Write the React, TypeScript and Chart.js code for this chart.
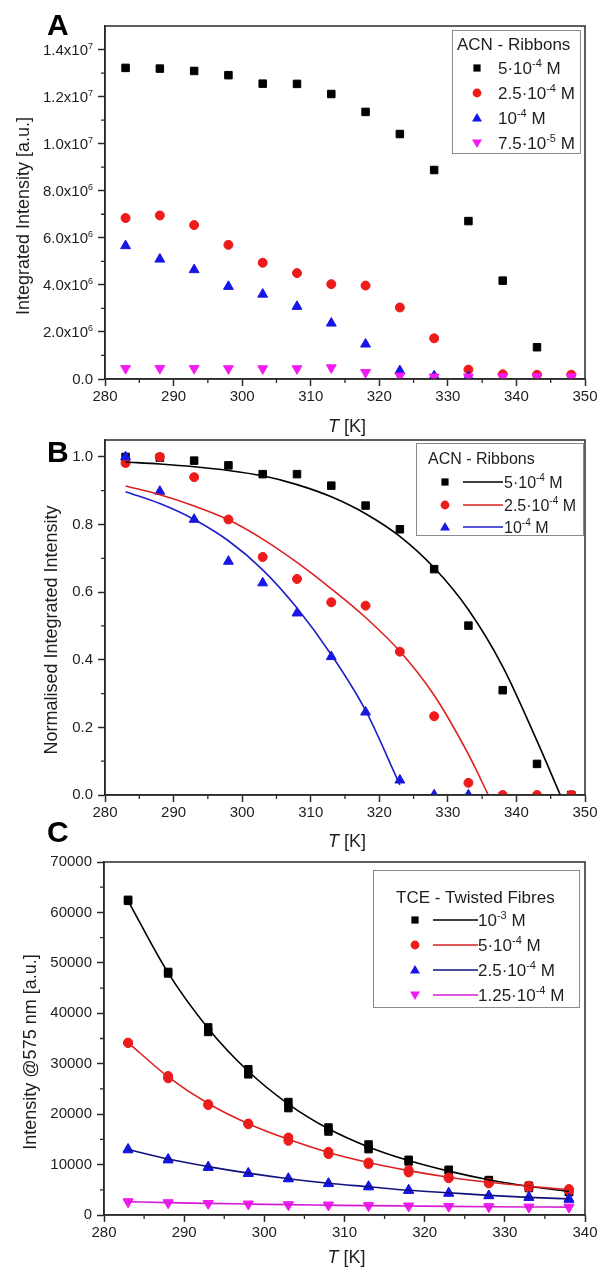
import React, { useEffect, useRef } from 'react';
import { Chart, registerables } from 'chart.js';

Chart.register(...registerables);

const FONT = '"Liberation Sans", Arial, Helvetica, sans-serif';
const INK = '#1e1e1e';
const FRAME = '#2a2a2a';
const TICK_SIZE = 15;

const BLACK = '#000000';
const RED = '#ee1b1b';
const BLUE = '#1616e6';
const MAGENTA = '#f21cf2';
const RED_LINE = '#dd2020';
const BLUE_LINE_B = '#1e1ec8';
const BLUE_LINE_C = '#12127e';
const MAGENTA_LINE = '#d61cd6';

// ---------- Panel A: integrated intensity, ACN ribbons ----------
const tempsAB = [283, 288, 293, 298, 303, 308, 313, 318, 323, 328, 333, 338, 343, 348];
const intA_5e4 = [13.22e6, 13.19e6, 13.09e6, 12.91e6, 12.55e6, 12.54e6, 12.11e6, 11.35e6, 10.41e6, 8.88e6, 6.71e6, 4.18e6, 1.35e6];
const intA_25e4 = [6.84e6, 6.95e6, 6.54e6, 5.7e6, 4.94e6, 4.5e6, 4.03e6, 3.97e6, 3.04e6, 1.73e6, 0.4e6, 0.2e6, 0.18e6, 0.18e6];
const intA_1e4 = [5.66e6, 5.09e6, 4.64e6, 3.93e6, 3.6e6, 3.08e6, 2.37e6, 1.48e6, 0.35e6, 0.13e6, 0.1e6];
const intA_75e5 = [0.45e6, 0.45e6, 0.45e6, 0.44e6, 0.44e6, 0.44e6, 0.48e6, 0.28e6, 0.13e6, 0.09e6, 0.09e6, 0.1e6, 0.1e6, 0.1e6];

const yTicksA = [0, 2e6, 4e6, 6e6, 8e6, 10e6, 12e6, 14e6];
const yTickLabelsA = ['0.0', '2.0x10⁶', '4.0x10⁶', '6.0x10⁶', '8.0x10⁶', '1.0x10⁷', '1.2x10⁷', '1.4x10⁷'];
const yMinorA = [1e6, 3e6, 5e6, 7e6, 9e6, 11e6, 13e6];

// ---------- Panel B: normalised integrated intensity ----------
const normB_5e4 = [1.0, 0.998, 0.989, 0.975, 0.949, 0.949, 0.915, 0.856, 0.786, 0.668, 0.501, 0.31, 0.092, 0.0];
const normB_25e4 = [0.982, 1.0, 0.94, 0.815, 0.704, 0.639, 0.57, 0.56, 0.424, 0.233, 0.036, 0.0, 0.0, 0.0];
const normB_1e4 = [1.0, 0.898, 0.815, 0.691, 0.627, 0.538, 0.409, 0.245, 0.044, 0.0, 0.0];

const fitT_5e4 = [283, 288, 293, 298, 303, 308, 313, 318, 323, 328, 333, 338, 343, 346.4];
const fitB_5e4 = [0.985, 0.979, 0.971, 0.96, 0.944, 0.918, 0.882, 0.832, 0.765, 0.672, 0.548, 0.38, 0.16, 0.0];
const fitT_25e4 = [283, 288, 293, 298, 303, 308, 313, 318, 323, 328, 333, 335.9];
const fitB_25e4 = [0.914, 0.888, 0.855, 0.814, 0.757, 0.688, 0.61, 0.525, 0.425, 0.295, 0.12, 0.0];
const fitT_1e4 = [283, 288, 293, 298, 303, 308, 313, 318, 323];
const fitB_1e4 = [0.897, 0.862, 0.815, 0.752, 0.666, 0.553, 0.415, 0.25, 0.03];

const yTicksB = [0, 0.2, 0.4, 0.6, 0.8, 1.0];
const yMinorB = [0.1, 0.3, 0.5, 0.7, 0.9];
const xTicksAB = [280, 290, 300, 310, 320, 330, 340, 350];
const xMinorAB = [285, 295, 305, 315, 325, 335, 345];

// ---------- Panel C: intensity at 575 nm, TCE twisted fibres (two runs) ----------
const tempsC = [283, 288, 293, 298, 303, 308, 313, 318, 323, 328, 333, 338];
const intC_1e3_a = [62500, 48200, 37200, 28900, 22400, 17350, 13980, 10950, 8970, 6930, 5800, 4620];
const intC_1e3_b = [62300, 47900, 36300, 27900, 21200, 16560, 13060, 10600, 8800, 6800, 5340, 4550];
const intC_5e4_a = [34170, 27570, 21970, 18140, 15370, 12530, 10420, 8900, 7450, 6270, 5800, 5150];
const intC_5e4_b = [34100, 27100, 21800, 18000, 14710, 12070, 10090, 8440, 7300, 6400, 5470, 4810];
const intC_25e4_a = [13060, 11080, 9560, 8310, 7260, 6270, 5670, 4950, 4350, 3830, 3560, 3170];
const intC_25e4_b = [12900, 10900, 9400, 8200, 7150, 6200, 5550, 4850, 4300, 3800, 3450, 3100];
const intC_125e4_a = [2640, 2440, 2310, 2180, 2040, 1980, 1850, 1780, 1720, 1650, 1580, 1580];
const intC_125e4_b = [2600, 2400, 2280, 2150, 2020, 1950, 1830, 1760, 1700, 1630, 1560, 1540];

const fitC_1e3 = [62300, 48000, 37000, 28500, 22000, 17100, 13500, 10800, 8700, 7000, 5700, 4700];
const fitC_5e4 = [34200, 27400, 22100, 18100, 15000, 12400, 10400, 8800, 7500, 6500, 5700, 5000];
const fitC_25e4 = [13000, 11100, 9600, 8300, 7200, 6300, 5600, 4900, 4400, 3900, 3500, 3200];
const fitC_125e4 = [2650, 2450, 2300, 2170, 2050, 1950, 1850, 1780, 1710, 1650, 1600, 1560];

const yTicksC = [0, 10000, 20000, 30000, 40000, 50000, 60000, 70000];
const yMinorC = [5000, 15000, 25000, 35000, 45000, 55000, 65000];
const xTicksC = [280, 290, 300, 310, 320, 330, 340];
const xMinorC = [285, 295, 305, 315, 325, 335];

// ---------- legends ----------
const legendA = ['5·10⁻⁴ M', '2.5·10⁻⁴ M', '10⁻⁴ M', '7.5·10⁻⁵ M'];
const legendB = ['5·10⁻⁴ M', '2.5·10⁻⁴ M', '10⁻⁴ M'];
const legendC = ['10⁻³ M', '5·10⁻⁴ M', '2.5·10⁻⁴ M', '1.25·10⁻⁴ M'];

type Shape = 'square' | 'circle' | 'up' | 'down';

interface LegendSpec {
  box: [number, number, number, number];
  title: string;
  titleX: number;
  titleY: number;
  size: number;
  markerX: number;
  lineX?: [number, number];
  textX: number;
  rows: number[];
  labels: string[];
  shapes: Shape[];
  colors: string[];
  lineColors?: string[];
}

interface PanelSpec {
  key: string;
  letter: string;
  letterY: number;
  area: { left: number; right: number; top: number; bottom: number };
  xMin: number;
  xMax: number;
  yMin: number;
  yMax: number;
  xTicks: number[];
  xMinor: number[];
  yTicks: number[];
  yMinor: number[];
  yLabel: (v: number) => string;
  yRich: boolean;
  xTitleY: number;
  yTitle: string;
  yTitleX: number;
  yTitleY: number;
  legend: LegendSpec;
  datasets: any[];
}

const pts = (xs: number[], ys: number[]) => ys.map((y, i) => ({ x: xs[i], y }));

const POINT: Record<Shape, any> = {
  square: { pointStyle: 'rect', pointRadius: 5.3, pointRotation: 0 },
  circle: { pointStyle: 'circle', pointRadius: 4.5, pointRotation: 0 },
  up: { pointStyle: 'triangle', pointRadius: 5.7, pointRotation: 0 },
  down: { pointStyle: 'triangle', pointRadius: 5.7, pointRotation: 180 },
};

function markers(xs: number[], ys: number[], shape: Shape, color: string) {
  return {
    data: pts(xs, ys),
    showLine: false,
    backgroundColor: color,
    borderColor: color,
    pointBackgroundColor: color,
    pointBorderColor: color,
    pointBorderWidth: 1,
    borderWidth: 1,
    ...POINT[shape],
  };
}

function curve(xs: number[], ys: number[], color: string) {
  return {
    data: pts(xs, ys),
    showLine: true,
    borderColor: color,
    backgroundColor: color,
    borderWidth: 1.6,
    pointRadius: 0,
    cubicInterpolationMode: 'monotone',
    fill: false,
  };
}

// ---------- text helpers ----------
const SUP: Record<string, string> = {
  '⁻': '-', '⁰': '0', '¹': '1', '²': '2', '³': '3', '⁴': '4',
  '⁵': '5', '⁶': '6', '⁷': '7', '⁸': '8', '⁹': '9',
};

function drawRich(ctx: CanvasRenderingContext2D, text: string, x: number, yMid: number, size: number, align: 'left' | 'right' | 'center') {
  const runs: { t: string; sup: boolean }[] = [];
  for (const ch of text) {
    const sup = ch in SUP;
    const c = sup ? SUP[ch] : ch;
    const last = runs[runs.length - 1];
    if (last && last.sup === sup) last.t += c;
    else runs.push({ t: c, sup });
  }
  const supSize = Math.round(size * 0.62);
  const widths = runs.map((r) => {
    ctx.font = `${r.sup ? supSize : size}px ${FONT}`;
    return ctx.measureText(r.t).width;
  });
  const total = widths.reduce((a, b) => a + b, 0);
  let cx = align === 'left' ? x : align === 'right' ? x - total : x - total / 2;
  const base = yMid + size * 0.36;
  ctx.textAlign = 'left';
  ctx.textBaseline = 'alphabetic';
  runs.forEach((r, i) => {
    ctx.font = `${r.sup ? supSize : size}px ${FONT}`;
    ctx.fillText(r.t, cx, r.sup ? base - size * 0.42 : base);
    cx += widths[i];
  });
}

function drawShape(ctx: CanvasRenderingContext2D, shape: Shape, x: number, y: number, color: string) {
  ctx.fillStyle = color;
  ctx.beginPath();
  if (shape === 'square') {
    ctx.rect(x - 3.6, y - 3.6, 7.2, 7.2);
  } else if (shape === 'circle') {
    ctx.arc(x, y, 4.4, 0, Math.PI * 2);
  } else if (shape === 'up') {
    ctx.moveTo(x, y - 5);
    ctx.lineTo(x + 5, y + 3.6);
    ctx.lineTo(x - 5, y + 3.6);
    ctx.closePath();
  } else {
    ctx.moveTo(x, y + 5);
    ctx.lineTo(x + 5, y - 3.6);
    ctx.lineTo(x - 5, y - 3.6);
    ctx.closePath();
  }
  ctx.fill();
}

function decorations(spec: PanelSpec) {
  return {
    id: 'decor',
    afterDraw(chart: any) {
      const ctx: CanvasRenderingContext2D = chart.ctx;
      const { left, right, top, bottom } = chart.chartArea;
      const xs = chart.scales.x;
      const ys = chart.scales.y;
      ctx.save();

      // box frame
      ctx.strokeStyle = FRAME;
      ctx.lineWidth = 1.5;
      ctx.strokeRect(left, top, right - left, bottom - top);

      // minor ticks
      ctx.lineWidth = 1.3;
      ctx.beginPath();
      spec.xMinor.forEach((v) => {
        const px = xs.getPixelForValue(v);
        ctx.moveTo(px, bottom);
        ctx.lineTo(px, bottom + 4);
      });
      spec.yMinor.forEach((v) => {
        const py = ys.getPixelForValue(v);
        ctx.moveTo(left, py);
        ctx.lineTo(left - 4, py);
      });
      ctx.stroke();

      ctx.fillStyle = INK;
      // y tick labels with exponents
      if (spec.yRich) {
        spec.yTicks.forEach((v) => {
          drawRich(ctx, spec.yLabel(v), left - 12, ys.getPixelForValue(v), TICK_SIZE, 'right');
        });
      }

      // x axis title: italic T and plain [K]
      const cxT = (left + right) / 2 + 2;
      ctx.textBaseline = 'middle';
      ctx.font = `italic 18px ${FONT}`;
      const wT = ctx.measureText('T').width;
      ctx.font = `18px ${FONT}`;
      const wK = ctx.measureText(' [K]').width;
      const x0 = cxT - (wT + wK) / 2;
      ctx.textAlign = 'left';
      ctx.font = `italic 18px ${FONT}`;
      ctx.fillText('T', x0, spec.xTitleY);
      ctx.font = `18px ${FONT}`;
      ctx.fillText(' [K]', x0 + wT, spec.xTitleY);

      // y axis title
      ctx.save();
      ctx.translate(spec.yTitleX, spec.yTitleY);
      ctx.rotate(-Math.PI / 2);
      ctx.textAlign = 'center';
      ctx.textBaseline = 'middle';
      ctx.font = `18px ${FONT}`;
      ctx.fillText(spec.yTitle, 0, 0);
      ctx.restore();

      // panel letter
      ctx.fillStyle = '#000';
      ctx.font = `bold 30px ${FONT}`;
      ctx.textAlign = 'left';
      ctx.textBaseline = 'alphabetic';
      ctx.fillText(spec.letter, 47, spec.letterY);

      // legend
      const L = spec.legend;
      const [bx0, by0, bx1, by1] = L.box;
      ctx.fillStyle = '#ffffff';
      ctx.fillRect(bx0, by0, bx1 - bx0, by1 - by0);
      ctx.strokeStyle = '#8a8a8a';
      ctx.lineWidth = 1;
      ctx.strokeRect(bx0 + 0.5, by0 + 0.5, bx1 - bx0, by1 - by0);
      ctx.fillStyle = INK;
      drawRich(ctx, L.title, L.titleX, L.titleY, L.size, 'left');
      L.rows.forEach((ry, i) => {
        drawShape(ctx, L.shapes[i], L.markerX, ry, L.colors[i]);
        if (L.lineX && L.lineColors) {
          ctx.strokeStyle = L.lineColors[i];
          ctx.lineWidth = 1.6;
          ctx.beginPath();
          ctx.moveTo(L.lineX[0], ry);
          ctx.lineTo(L.lineX[1], ry);
          ctx.stroke();
        }
        ctx.fillStyle = INK;
        drawRich(ctx, L.labels[i], L.textX, ry, L.size, 'left');
      });

      ctx.restore();
    },
  };
}

const X_AXIS_H = 40;

function makeChart(canvas: HTMLCanvasElement, spec: PanelSpec) {
  const { area } = spec;
  const datasets = spec.datasets.map((d, i) => ({ ...d, order: -i }));
  return new Chart(canvas, {
    type: 'scatter',
    data: { datasets },
    options: {
      animation: false,
      responsive: false,
      events: [],
      layout: {
        padding: { left: 0, right: 600 - area.right, top: area.top, bottom: 1274 - area.bottom - X_AXIS_H },
      },
      plugins: { legend: { display: false }, tooltip: { enabled: false } },
      scales: {
        x: {
          type: 'linear',
          min: spec.xMin,
          max: spec.xMax,
          afterBuildTicks: (s: any) => {
            s.ticks = spec.xTicks.map((v) => ({ value: v }));
          },
          afterFit: (s: any) => {
            s.height = X_AXIS_H;
          },
          grid: { display: true, drawOnChartArea: false, drawTicks: true, tickLength: 7, tickWidth: 1.5, tickColor: FRAME, color: FRAME },
          border: { display: true, color: FRAME, width: 1.5 },
          ticks: {
            color: INK,
            font: { family: FONT, size: TICK_SIZE },
            padding: 2,
            maxRotation: 0,
            autoSkip: false,
            callback: (v: any) => String(v),
          },
        },
        y: {
          type: 'linear',
          min: spec.yMin,
          max: spec.yMax,
          afterBuildTicks: (s: any) => {
            s.ticks = spec.yTicks.map((v) => ({ value: v }));
          },
          afterFit: (s: any) => {
            s.width = area.left;
          },
          grid: { display: true, drawOnChartArea: false, drawTicks: true, tickLength: 7, tickWidth: 1.5, tickColor: FRAME, color: FRAME },
          border: { display: true, color: FRAME, width: 1.5 },
          ticks: {
            color: INK,
            font: { family: FONT, size: TICK_SIZE },
            padding: 5,
            autoSkip: false,
            callback: (v: any) => (spec.yRich ? '' : spec.yLabel(Number(v))),
          },
        },
      },
    },
    plugins: [decorations(spec)],
  } as any);
}

const PANELS: PanelSpec[] = [
  {
    key: 'A',
    letter: 'A',
    letterY: 35,
    area: { left: 105, right: 585, top: 26, bottom: 379 },
    xMin: 280,
    xMax: 350,
    yMin: 0,
    yMax: 1.5e7,
    xTicks: xTicksAB,
    xMinor: xMinorAB,
    yTicks: yTicksA,
    yMinor: yMinorA,
    yLabel: (v) => yTickLabelsA[yTicksA.indexOf(v)] ?? '',
    yRich: true,
    xTitleY: 427,
    yTitle: 'Integrated Intensity [a.u.]',
    yTitleX: 24,
    yTitleY: 216,
    legend: {
      box: [452, 30, 580, 153],
      title: 'ACN - Ribbons',
      titleX: 457,
      titleY: 44,
      size: 17,
      markerX: 477,
      textX: 498,
      rows: [68, 93, 118, 143],
      labels: legendA,
      shapes: ['square', 'circle', 'up', 'down'],
      colors: [BLACK, RED, BLUE, MAGENTA],
    },
    datasets: [
      markers(tempsAB, intA_5e4, 'square', BLACK),
      markers(tempsAB, intA_25e4, 'circle', RED),
      markers(tempsAB, intA_1e4, 'up', BLUE),
      markers(tempsAB, intA_75e5, 'down', MAGENTA),
    ],
  },
  {
    key: 'B',
    letter: 'B',
    letterY: 462,
    area: { left: 105, right: 585, top: 440, bottom: 795 },
    xMin: 280,
    xMax: 350,
    yMin: 0,
    yMax: 1.05,
    xTicks: xTicksAB,
    xMinor: xMinorAB,
    yTicks: yTicksB,
    yMinor: yMinorB,
    yLabel: (v) => v.toFixed(1),
    yRich: false,
    xTitleY: 842,
    yTitle: 'Normalised Integrated Intensity',
    yTitleX: 52,
    yTitleY: 630,
    legend: {
      box: [416, 443, 583, 535],
      title: 'ACN - Ribbons',
      titleX: 428,
      titleY: 458,
      size: 16,
      markerX: 445,
      lineX: [463, 503],
      textX: 504,
      rows: [482, 505, 527],
      labels: legendB,
      shapes: ['square', 'circle', 'up'],
      colors: [BLACK, RED, BLUE],
      lineColors: [BLACK, RED_LINE, BLUE_LINE_B],
    },
    datasets: [
      markers(tempsAB, normB_5e4, 'square', BLACK),
      markers(tempsAB, normB_25e4, 'circle', RED),
      markers(tempsAB, normB_1e4, 'up', BLUE),
      curve(fitT_5e4, fitB_5e4, BLACK),
      curve(fitT_25e4, fitB_25e4, RED_LINE),
      curve(fitT_1e4, fitB_1e4, BLUE_LINE_B),
    ],
  },
  {
    key: 'C',
    letter: 'C',
    letterY: 842,
    area: { left: 104, right: 585, top: 862, bottom: 1215 },
    xMin: 280,
    xMax: 340,
    yMin: 0,
    yMax: 70000,
    xTicks: xTicksC,
    xMinor: xMinorC,
    yTicks: yTicksC,
    yMinor: yMinorC,
    yLabel: (v) => String(v),
    yRich: false,
    xTitleY: 1258,
    yTitle: 'Intensity @575 nm [a.u.]',
    yTitleX: 31,
    yTitleY: 1052,
    legend: {
      box: [373, 870, 579, 1007],
      title: 'TCE - Twisted Fibres',
      titleX: 396,
      titleY: 897,
      size: 17,
      markerX: 415,
      lineX: [433, 478],
      textX: 478,
      rows: [920, 945, 970, 995],
      labels: legendC,
      shapes: ['square', 'circle', 'up', 'down'],
      colors: [BLACK, RED, BLUE, MAGENTA],
      lineColors: [BLACK, RED_LINE, BLUE_LINE_C, MAGENTA_LINE],
    },
    datasets: [
      markers(tempsC, intC_1e3_a, 'square', BLACK),
      markers(tempsC, intC_1e3_b, 'square', BLACK),
      markers(tempsC, intC_5e4_a, 'circle', RED),
      markers(tempsC, intC_5e4_b, 'circle', RED),
      markers(tempsC, intC_25e4_a, 'up', BLUE),
      markers(tempsC, intC_25e4_b, 'up', BLUE),
      markers(tempsC, intC_125e4_a, 'down', MAGENTA),
      markers(tempsC, intC_125e4_b, 'down', MAGENTA),
      curve(tempsC, fitC_1e3, BLACK),
      curve(tempsC, fitC_5e4, RED_LINE),
      curve(tempsC, fitC_25e4, BLUE_LINE_C),
      curve(tempsC, fitC_125e4, MAGENTA_LINE),
    ],
  },
];

function PanelCanvas({ spec }: { spec: PanelSpec }) {
  const ref = useRef<HTMLCanvasElement>(null);
  useEffect(() => {
    if (!ref.current) return;
    const chart = makeChart(ref.current, spec);
    return () => chart.destroy();
  }, [spec]);
  return (
    <canvas
      ref={ref}
      width={600}
      height={1274}
      style={{ position: 'absolute', left: 0, top: 0, width: 600, height: 1274 }}
    />
  );
}

export default function App() {
  return (
    <div style={{ position: 'absolute', left: 0, top: 0, width: 600, height: 1274, background: '#ffffff', overflow: 'hidden' }}>
      {PANELS.map((p) => (
        <PanelCanvas key={p.key} spec={p} />
      ))}
    </div>
  );
}
